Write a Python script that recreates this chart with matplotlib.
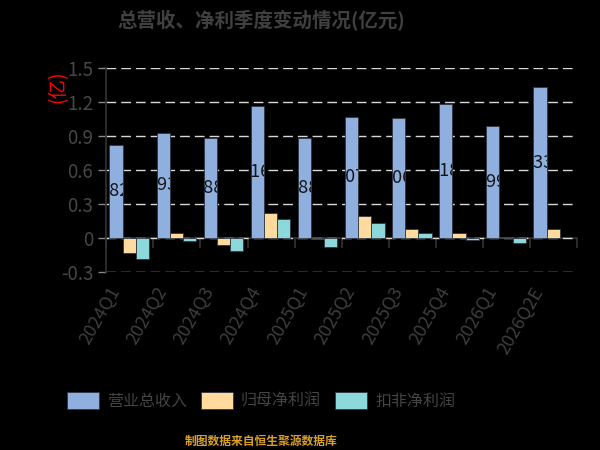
import numpy as np
import matplotlib
matplotlib.use("Agg")
import matplotlib.pyplot as plt
from matplotlib.transforms import ScaledTranslation

plt.rcParams['font.family'] = ['Noto Sans CJK SC', 'DejaVu Sans']

# data (亿元)
quarters = ['2024Q1', '2024Q2', '2024Q3', '2024Q4', '2025Q1',
            '2025Q2', '2025Q3', '2025Q4', '2026Q1', '2026Q2E']
revenue = [0.82, 0.93, 0.88, 1.16, 0.88, 1.07, 1.06, 1.18, 0.99, 1.33]
net_profit = [-0.13, 0.04, -0.06, 0.22, -0.01, 0.19, 0.08, 0.045, 0.005, 0.08]
deducted_profit = [-0.19, -0.025, -0.12, 0.17, -0.08, 0.13, 0.04, -0.015, -0.05, np.nan]
series_names = ['营业总收入', '归母净利润', '扣非净利润']
colors = ['#8FB0DE', '#FFDA9E', '#8CD8DB']

yticks = [-0.3, 0, 0.3, 0.6, 0.9, 1.2, 1.5]

fig = plt.figure(figsize=(6, 4.5), dpi=100, facecolor='black')
ax = fig.add_axes([0.177, 0.396, 0.785, 0.453])
ax.set_facecolor('black')

x = np.arange(len(quarters))
w = 0.28
bars = []
for i, vals in enumerate([revenue, net_profit, deducted_profit]):
    b = ax.bar(x + (i - 1) * w - 0.01, vals, w, color=colors[i], edgecolor='#2f3640',
               linewidth=0.6, label=series_names[i], zorder=3)
    bars.append(b)

# value labels on revenue bars (dark text, only visible over the bar)
shift = ScaledTranslation(-0.04, 0, fig.dpi_scale_trans)
for rect, v in zip(bars[0], revenue):
    t = ax.text(rect.get_x() + rect.get_width() / 2, v / 2, f'{v:.2f}',
                ha='center', va='center', fontsize=13, color='#151515',
                zorder=4, clip_on=True, transform=ax.transData + shift)
    t.set_clip_path(rect)

ax.set_xlim(-0.5, len(quarters) - 0.5)
ax.set_ylim(yticks[0], yticks[-1])
ax.set_yticks(yticks)
ax.set_yticklabels(['0' if v == 0 else f'{v:.1f}' for v in yticks])
ax.yaxis.grid(True, linestyle=(0, (7, 3.6)), color='#d8d8d8', linewidth=1, zorder=1)
ax.set_axisbelow(True)
ax.tick_params(axis='y', colors='#888888', labelcolor='#474747', labelsize=13.5,
               length=6, width=1)

for s in ['top', 'right', 'bottom']:
    ax.spines[s].set_visible(False)
ax.spines['left'].set_color('#333333')
ax.spines['left'].set_linewidth(1.2)

# category axis line at zero with boundary ticks
zero_frac = (0 - yticks[0]) / (yticks[-1] - yticks[0])
sec = ax.secondary_xaxis(zero_frac)
sec.set_xticks(np.arange(len(quarters) + 1) - 0.5)
sec.set_xticklabels([])
sec.tick_params(direction='out', length=7, width=1.2, color='#333333')
sec.spines['bottom'].set_color('#333333')
sec.spines['bottom'].set_linewidth(1.2)

ax.set_xticks(x)
ax.set_xticklabels(quarters)
ax.tick_params(axis='x', length=0, pad=12, labelsize=13, labelcolor='#3d3d3d')
for lab in ax.get_xticklabels():
    lab.set_rotation(60)
    lab.set_ha('right')
    lab.set_va('center')
    lab.set_rotation_mode('anchor')
    lab.set_transform(lab.get_transform() + ScaledTranslation(-0.14, 0, fig.dpi_scale_trans))

fig.text(0.097, 0.808, '(亿)', rotation=90, color='red', fontsize=14,
         ha='center', va='center')

fig.text(0.435, 0.955, '总营收、净利季度变动情况(亿元)', ha='center', va='center',
         fontsize=14, fontweight='bold', color='#404040')

leg = fig.legend(handles=bars, labels=series_names, loc='center',
                 bbox_to_anchor=(0.435, 1 - 401 / 450), ncol=3, frameon=False,
                 fontsize=11.5, handlelength=2.0, handleheight=1.25,
                 handletextpad=0.5, columnspacing=0.9)
for txt in leg.get_texts():
    txt.set_color('#444444')

fig.text(0.435, 0.018, '制图数据来自恒生聚源数据库', ha='center', va='center',
         fontsize=8.5, fontweight='bold', color='#D9A026')

fig.savefig('out.png', dpi=100, facecolor='black')
